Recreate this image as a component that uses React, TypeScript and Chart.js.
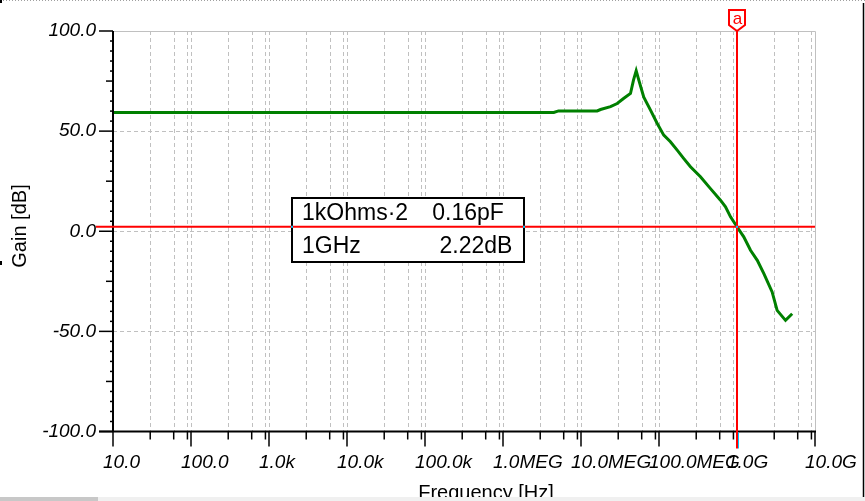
import React, { useEffect, useRef } from "react";
import { Chart, registerables } from "chart.js";

Chart.register(...registerables);

// ---- data ----
const frequencies = [
  10, 4.48e6, 5.15e6, 1.61e7, 1.78e7, 2.39e7, 2.91e7, 3.51e7, 4.31e7, 4.71e7,
  5.1e7, 5.51e7, 6.38e7, 7.78e7, 9.49e7, 1.15e8, 1.4e8, 1.71e8, 2.08e8, 2.53e8,
  3.4e8, 4.57e8, 6.14e8, 7.12e8, 8.26e8, 1e9, 1.22e9, 1.49e9, 1.82e9, 2.21e9,
  2.82e9, 3.27e9, 4.19e9, 5.1e9,
];
const gainDb = [
  59.3, 59.3, 60.1, 60.1, 60.8, 62.2, 63.8, 66.3, 68.8, 75.5,
  80.2, 75.5, 67, 60.5, 53.8, 48, 44.7, 40.5, 36.3, 32.2,
  27.2, 21.3, 15.5, 12.2, 7.2, 2.22, -2.8, -9.5, -14.5, -21.2,
  -30.3, -39.5, -44.5, -41.2,
];
const xTickValues = [10, 100, 1e3, 1e4, 1e5, 1e6, 1e7, 1e8, 1e9, 1e10];
const xTickLabels = ["10.0", "100.0", "1.0k", "10.0k", "100.0k", "1.0MEG", "10.0MEG", "100.0MEG", "1.0G", "10.0G"];
const xMinorMultipliers = [3, 6, 9];
const yTickValues = [-100, -50, 0, 50, 100];
const yTickLabels = ["-100.0", "-50.0", "0.0", "50.0", "100.0"];
const cursorFreq = 1e9;
const cursorGain = 2.22;
const cursorName = "a";
const infoRow1 = ["1kOhms\u00B72", "0.16pF"];
const infoRow2 = ["1GHz", "2.22dB"];
const xTitle = "Frequency [Hz]";
const yTitle = "Gain [dB]";

const FONT = '"Liberation Sans", Arial, sans-serif';

const decorPlugin = {
  id: "tinaDecor",
  beforeDatasetsDraw(chart: any) {
    const { ctx, chartArea: ca, scales } = chart;
    const xs = scales.x;
    const ys = scales.y;
    ctx.save();
    ctx.strokeStyle = "#c0c0c0";
    ctx.lineWidth = 1;
    ctx.setLineDash([4, 3]);
    for (let d = 10; d <= 1e10; d *= 10) {
      const vals = [...xMinorMultipliers.map((m) => m * d), 10 * d];
      for (const v of vals) {
        if (v <= 10 || v >= 1e10) continue;
        const px = Math.round(xs.getPixelForValue(v)) + 0.5;
        ctx.beginPath();
        ctx.moveTo(px, ca.top);
        ctx.lineTo(px, ca.bottom);
        ctx.stroke();
      }
    }
    for (const v of [50, 0, -50]) {
      const py = Math.round(ys.getPixelForValue(v)) + 0.5;
      ctx.beginPath();
      ctx.moveTo(ca.left, py);
      ctx.lineTo(ca.right, py);
      ctx.stroke();
    }
    ctx.setLineDash([]);
    ctx.beginPath();
    ctx.moveTo(ca.left, Math.round(ca.top) + 0.5);
    ctx.lineTo(ca.right + 0.5, Math.round(ca.top) + 0.5);
    ctx.lineTo(ca.right + 0.5, ca.bottom);
    ctx.stroke();
    ctx.restore();
  },
  afterDatasetsDraw(chart: any) {
    const { ctx, chartArea: ca, scales } = chart;
    const xs = scales.x;
    const ys = scales.y;
    ctx.save();
    ctx.strokeStyle = "#000";
    ctx.lineWidth = 2;
    ctx.beginPath();
    ctx.moveTo(ca.left, ca.top);
    ctx.lineTo(ca.left, ca.bottom);
    ctx.stroke();
    ctx.beginPath();
    ctx.moveTo(ca.left - 14, ca.bottom);
    ctx.lineTo(ca.right + 1, ca.bottom);
    ctx.stroke();
    ctx.lineWidth = 1.5;
    for (let v = -100; v <= 100; v += 5) {
      const py = ys.getPixelForValue(v);
      const len = v % 50 === 0 ? 14 : v % 25 === 0 ? 7 : 3;
      ctx.beginPath();
      ctx.moveTo(ca.left - len, py);
      ctx.lineTo(ca.left, py);
      ctx.stroke();
    }
    for (let d = 10; d <= 1e10; d *= 10) {
      const px = xs.getPixelForValue(d);
      ctx.beginPath();
      ctx.moveTo(px, ca.bottom);
      ctx.lineTo(px, ca.bottom + 15);
      ctx.stroke();
      if (d < 1e10) {
        for (const m of xMinorMultipliers) {
          const p2 = xs.getPixelForValue(m * d);
          ctx.beginPath();
          ctx.moveTo(p2, ca.bottom);
          ctx.lineTo(p2, ca.bottom + 8);
          ctx.stroke();
        }
      }
    }

    const bx = 292, by = 198, bw = 232, bh = 64;
    ctx.fillStyle = "#fff";
    ctx.fillRect(bx, by, bw, bh);
    ctx.strokeStyle = "#000";
    ctx.lineWidth = 2;
    ctx.strokeRect(bx, by, bw, bh);

    const cx = Math.round(xs.getPixelForValue(cursorFreq));
    const cy = ys.getPixelForValue(cursorGain);
    ctx.strokeStyle = "#ff0000";
    ctx.lineWidth = 2;
    ctx.beginPath();
    ctx.moveTo(ca.left - 17, cy);
    ctx.lineTo(ca.right, cy);
    ctx.stroke();
    ctx.beginPath();
    ctx.moveTo(cx, 30);
    ctx.lineTo(cx, ca.bottom + 17);
    ctx.stroke();
    ctx.fillStyle = "#00c8ff";
    ctx.fillRect(cx + 1, ca.bottom + 1, 1, 16);
    ctx.fillRect(cx - 1, cy - 1, 2, 2);
    ctx.fillRect(bx - 1, cy - 1, 2, 2);
    ctx.fillRect(bx + bw - 1, cy - 1, 2, 2);

    ctx.beginPath();
    ctx.moveTo(cx - 8, 10);
    ctx.lineTo(cx + 8, 10);
    ctx.lineTo(cx + 8, 25);
    ctx.lineTo(cx, 31);
    ctx.lineTo(cx - 8, 25);
    ctx.closePath();
    ctx.fillStyle = "#fff";
    ctx.fill();
    ctx.strokeStyle = "#ff0000";
    ctx.lineWidth = 2;
    ctx.stroke();
    ctx.fillStyle = "#ff0000";
    ctx.font = `17px ${FONT}`;
    ctx.textAlign = "center";
    ctx.textBaseline = "alphabetic";
    ctx.fillText(cursorName, cx + 0.5, 24);

    ctx.fillStyle = "#000";
    ctx.font = `23px ${FONT}`;
    ctx.textAlign = "left";
    ctx.fillText(infoRow1[0], 302, 220);
    ctx.fillText(infoRow2[0], 302, 253);
    ctx.textAlign = "center";
    ctx.fillText(infoRow1[1], 468, 220);
    ctx.fillText(infoRow2[1], 476, 253);

    ctx.font = `20px ${FONT}`;
    ctx.textAlign = "center";
    ctx.fillText(xTitle, 486, 499);
    ctx.save();
    ctx.translate(26, 226);
    ctx.rotate(-Math.PI / 2);
    ctx.fillText(yTitle, 0, 0);
    ctx.restore();

    ctx.fillStyle = "#c8c8c8";
    ctx.fillRect(0, 497, 98, 4);
    ctx.fillStyle = "#f0f0f0";
    ctx.fillRect(98, 497, 767, 4);
    ctx.strokeStyle = "#000";
    ctx.lineWidth = 1.5;
    ctx.beginPath();
    ctx.moveTo(863.5, 3);
    ctx.lineTo(863.5, 497);
    ctx.stroke();
    ctx.strokeStyle = "#a0a0a0";
    ctx.lineWidth = 1;
    ctx.setLineDash([1, 2]);
    ctx.beginPath();
    ctx.moveTo(0, 0.5);
    ctx.lineTo(865, 0.5);
    ctx.stroke();
    ctx.setLineDash([]);
    ctx.fillStyle = "#000";
    ctx.fillRect(0, 0, 2, 3);
    ctx.fillRect(0, 261, 2, 4);
    ctx.restore();
  },
};

export default function App() {
  const canvasRef = useRef<HTMLCanvasElement | null>(null);

  useEffect(() => {
    const canvas = canvasRef.current;
    if (!canvas) return;
    const chart = new Chart(canvas, {
      type: "line",
      data: {
        datasets: [
          {
            data: frequencies.map((f, i) => ({ x: f, y: gainDb[i] })),
            borderColor: "#008000",
            borderWidth: 3,
            pointRadius: 0,
            tension: 0,
            fill: false,
          },
        ],
      },
      options: {
        responsive: false,
        animation: false,
        events: [],
        layout: { padding: { left: 0, top: 31, right: 50, bottom: 0 } },
        plugins: { legend: { display: false }, tooltip: { enabled: false } },
        scales: {
          x: {
            type: "logarithmic",
            min: 10,
            max: 1e10,
            afterBuildTicks: (s: any) => {
              s.ticks = xTickValues.map((v) => ({ value: v }));
            },
            afterFit: (s: any) => {
              s.height = 69.5;
              s.paddingLeft = 0;
              s.paddingRight = 0;
            },
            grid: { display: false, drawTicks: false, tickLength: 0 },
            border: { display: false },
            ticks: {
              autoSkip: false,
              maxRotation: 0,
              minRotation: 0,
              align: "start",
              labelOffset: -10,
              padding: 20,
              color: "#000",
              font: { family: FONT, size: 19, style: "italic" },
              callback: (v: any) => xTickLabels[xTickValues.indexOf(Number(v))] ?? "",
            },
          },
          y: {
            type: "linear",
            min: -100,
            max: 100,
            afterBuildTicks: (s: any) => {
              s.ticks = yTickValues.map((v) => ({ value: v }));
            },
            afterFit: (s: any) => {
              s.width = 113;
              s.paddingTop = 0;
              s.paddingBottom = 0;
            },
            grid: { display: false, drawTicks: false, tickLength: 0 },
            border: { display: false },
            ticks: {
              padding: 17,
              color: "#000",
              font: { family: FONT, size: 19, style: "italic" },
              callback: (v: any) => yTickLabels[yTickValues.indexOf(Number(v))] ?? "",
            },
          },
        },
      },
      plugins: [decorPlugin],
    });
    return () => chart.destroy();
  }, []);

  return (
    <div style={{ position: "absolute", left: 0, top: 0, width: 865, height: 501, background: "#fff" }}>
      <canvas ref={canvasRef} width={865} height={501} />
    </div>
  );
}
